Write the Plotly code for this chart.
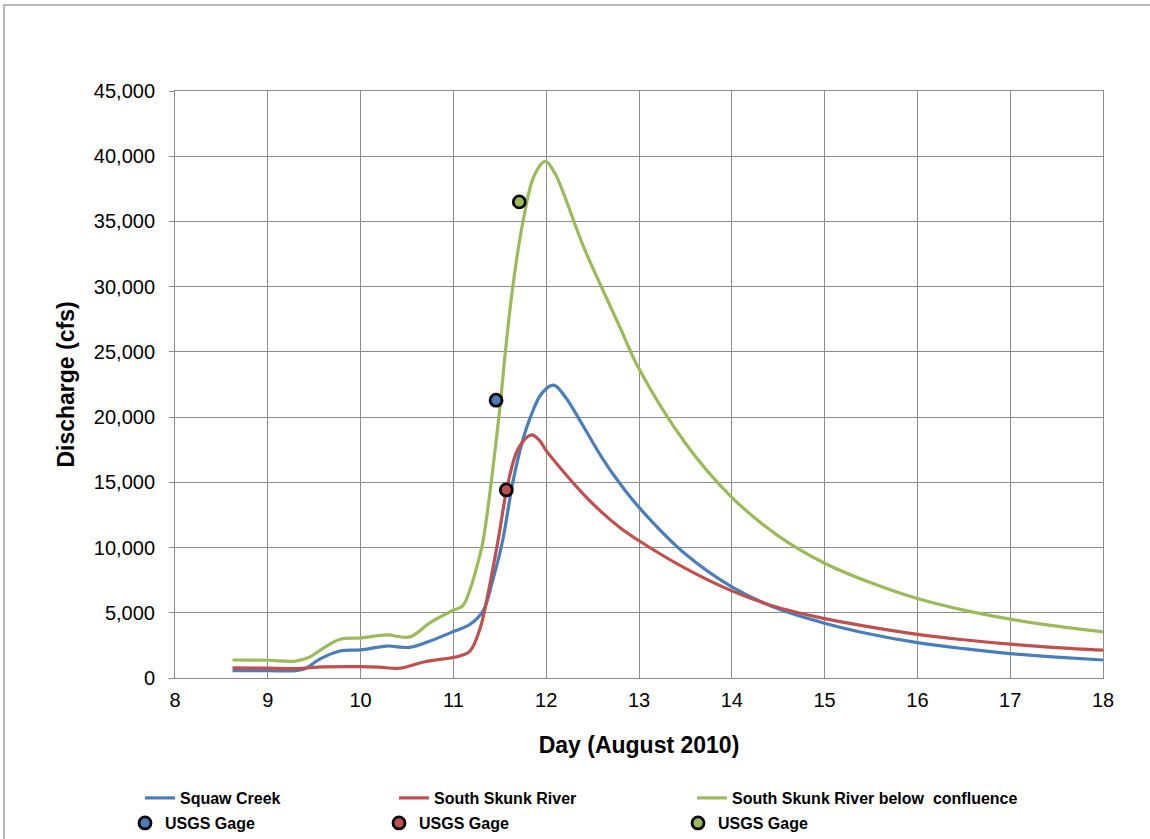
import plotly.graph_objects as go

# ---------------- data ----------------
squaw_day = [8.62, 9.0, 9.3, 9.4, 9.56, 9.78, 10.0, 10.28, 10.53, 10.75, 11.0, 11.18,
             11.32, 11.42, 11.53, 11.64, 11.75, 11.83, 11.95, 12.08, 12.2, 12.4, 12.6,
             12.8, 13.0, 13.5, 14.0, 14.5, 15.0, 15.5, 16.0, 16.5, 17.0, 17.5, 18.0]
squaw_q = [560, 560, 570, 700, 1450, 2070, 2150, 2450, 2350, 2840, 3560, 4120,
           5150, 7400, 10500, 15000, 18300, 20000, 21800, 22450, 21600, 19300, 16900,
           14850, 13080, 9500, 6990, 5300, 4200, 3350, 2710, 2250, 1870, 1600, 1380]

skunk_day = [8.62, 9.0, 9.3, 9.6, 10.0, 10.2, 10.42, 10.68, 11.07, 11.18, 11.29,
             11.36, 11.48, 11.59, 11.7, 11.84, 11.93, 12.0, 12.2, 12.4, 12.6, 12.8,
             13.0, 13.5, 14.0, 14.5, 15.0, 15.5, 16.0, 16.5, 17.0, 17.5, 18.0]
skunk_q = [770, 760, 720, 850, 870, 830, 750, 1230, 1690, 2070, 3860,
           6000, 10500, 15000, 17600, 18640, 18200, 17430, 15700, 14100, 12700, 11500,
           10520, 8400, 6680, 5400, 4550, 3900, 3350, 2930, 2590, 2330, 2130]

below_day = [8.62, 9.0, 9.3, 9.45, 9.6, 9.78, 10.0, 10.28, 10.53, 10.75, 11.0, 11.1,
             11.18, 11.27, 11.32, 11.49, 11.56, 11.64, 11.75, 11.87, 11.99, 12.1,
             12.2, 12.4, 12.6, 12.8, 13.0, 13.5, 14.0, 14.5, 15.0, 15.5, 16.0, 16.5,
             17.0, 17.5, 18.0]
below_q = [1380, 1360, 1300, 1600, 2300, 2970, 3070, 3300, 3150, 4250, 5200, 5530,
           6800, 9000, 10520, 20000, 25000, 30000, 35000, 38500, 39600, 38600,
           36900, 33100, 29900, 26800, 23700, 18000, 13850, 10900, 8800, 7300, 6090,
           5200, 4510, 3970, 3530]

gage_day = [11.46, 11.57, 11.71]
gage_q = [21300, 14420, 36500]

series_names = ["Squaw Creek", "South Skunk River", "South Skunk River below  confluence"]
gage_name = "USGS Gage"
colors = ["#4A7EBB", "#C0504D", "#9BBB59"]

y_ticks = list(range(0, 45001, 5000))
x_ticks = list(range(8, 19))

# ---------------- figure ----------------
W, H = 1150, 839
L, R, T, B = 175, W - 1103, 91, H - 678
PW, PH = W - L - R, H - T - B


def px_x(p):
    return (p - L) / PW


def px_y(p):
    return (H - B - p) / PH


fig = go.Figure()

curves = [(squaw_day, squaw_q), (skunk_day, skunk_q), (below_day, below_q)]
line_leg_x = [140, 394, 692]
mark_leg_x = [125, 379, 678]

for i, (xd, yd) in enumerate(curves):
    lg = "legend" if i == 0 else f"legend{i + 1}"
    fig.add_trace(go.Scatter(
        x=xd, y=yd, mode="lines", name=series_names[i],
        line=dict(color=colors[i], width=3.2, shape="spline", smoothing=1.0),
        legend=lg, hoverinfo="x+y"))

for i in range(3):
    lg = f"legend{i + 4}"
    fig.add_trace(go.Scatter(
        x=[gage_day[i]], y=[gage_q[i]], mode="markers", name=gage_name,
        marker=dict(color=colors[i], size=12, line=dict(color="black", width=2.8)),
        legend=lg, hoverinfo="x+y"))

legend_font = dict(family="Liberation Sans, Arial, sans-serif", size=16, color="black",
                   weight="bold")
legend_common = dict(orientation="h", xanchor="left", yanchor="middle",
                     bgcolor="rgba(0,0,0,0)", borderwidth=0, font=legend_font)

layout_legends = {}
for i in range(3):
    key = "legend" if i == 0 else f"legend{i + 1}"
    layout_legends[key] = dict(x=px_x(line_leg_x[i]), y=px_y(798), **legend_common)
for i in range(3):
    key = f"legend{i + 4}"
    layout_legends[key] = dict(x=px_x(mark_leg_x[i]), y=px_y(823), **legend_common)

grid_c = "#8C8C8C"
tick_font = dict(family="Liberation Sans, Arial, sans-serif", size=20, color="black")
title_font = dict(family="Liberation Sans, Arial, sans-serif", size=23, color="black")

fig.update_layout(
    width=W, height=H,
    margin=dict(l=L, r=R, t=T, b=B, autoexpand=False),
    paper_bgcolor="white", plot_bgcolor="white",
    showlegend=True,
    xaxis=dict(range=[8, 18], tickvals=x_ticks, ticktext=[str(v) for v in x_ticks],
               showgrid=True, gridcolor=grid_c, gridwidth=1,
               showline=True, linecolor=grid_c, linewidth=1, mirror=True,
               zeroline=False, ticks="", tickfont=tick_font, ticklabelstandoff=4,
               title=dict(text="<b>Day (August 2010)</b>", font=title_font, standoff=26)),
    yaxis=dict(range=[0, 45000], tickvals=y_ticks, tickformat=",",
               showgrid=True, gridcolor=grid_c, gridwidth=1,
               showline=True, linecolor=grid_c, linewidth=1, mirror=True,
               zeroline=False, ticks="outside", ticklen=5, tickcolor=grid_c,
               tickfont=tick_font, ticklabelstandoff=10,
               title=dict(text="<b>Discharge (cfs)</b>", font=title_font, standoff=12)),
    shapes=[dict(type="rect", xref="paper", yref="paper",
                 x0=px_x(4), x1=px_x(1160), y0=px_y(850), y1=px_y(5),
                 line=dict(color="#A0A0A0", width=1.5), fillcolor="rgba(0,0,0,0)",
                 layer="below")],
    **layout_legends,
)

fig.write_html("out.html", config={"displayModeBar": False},
               post_script="document.body.style.margin='0';document.body.style.overflow='hidden';")
